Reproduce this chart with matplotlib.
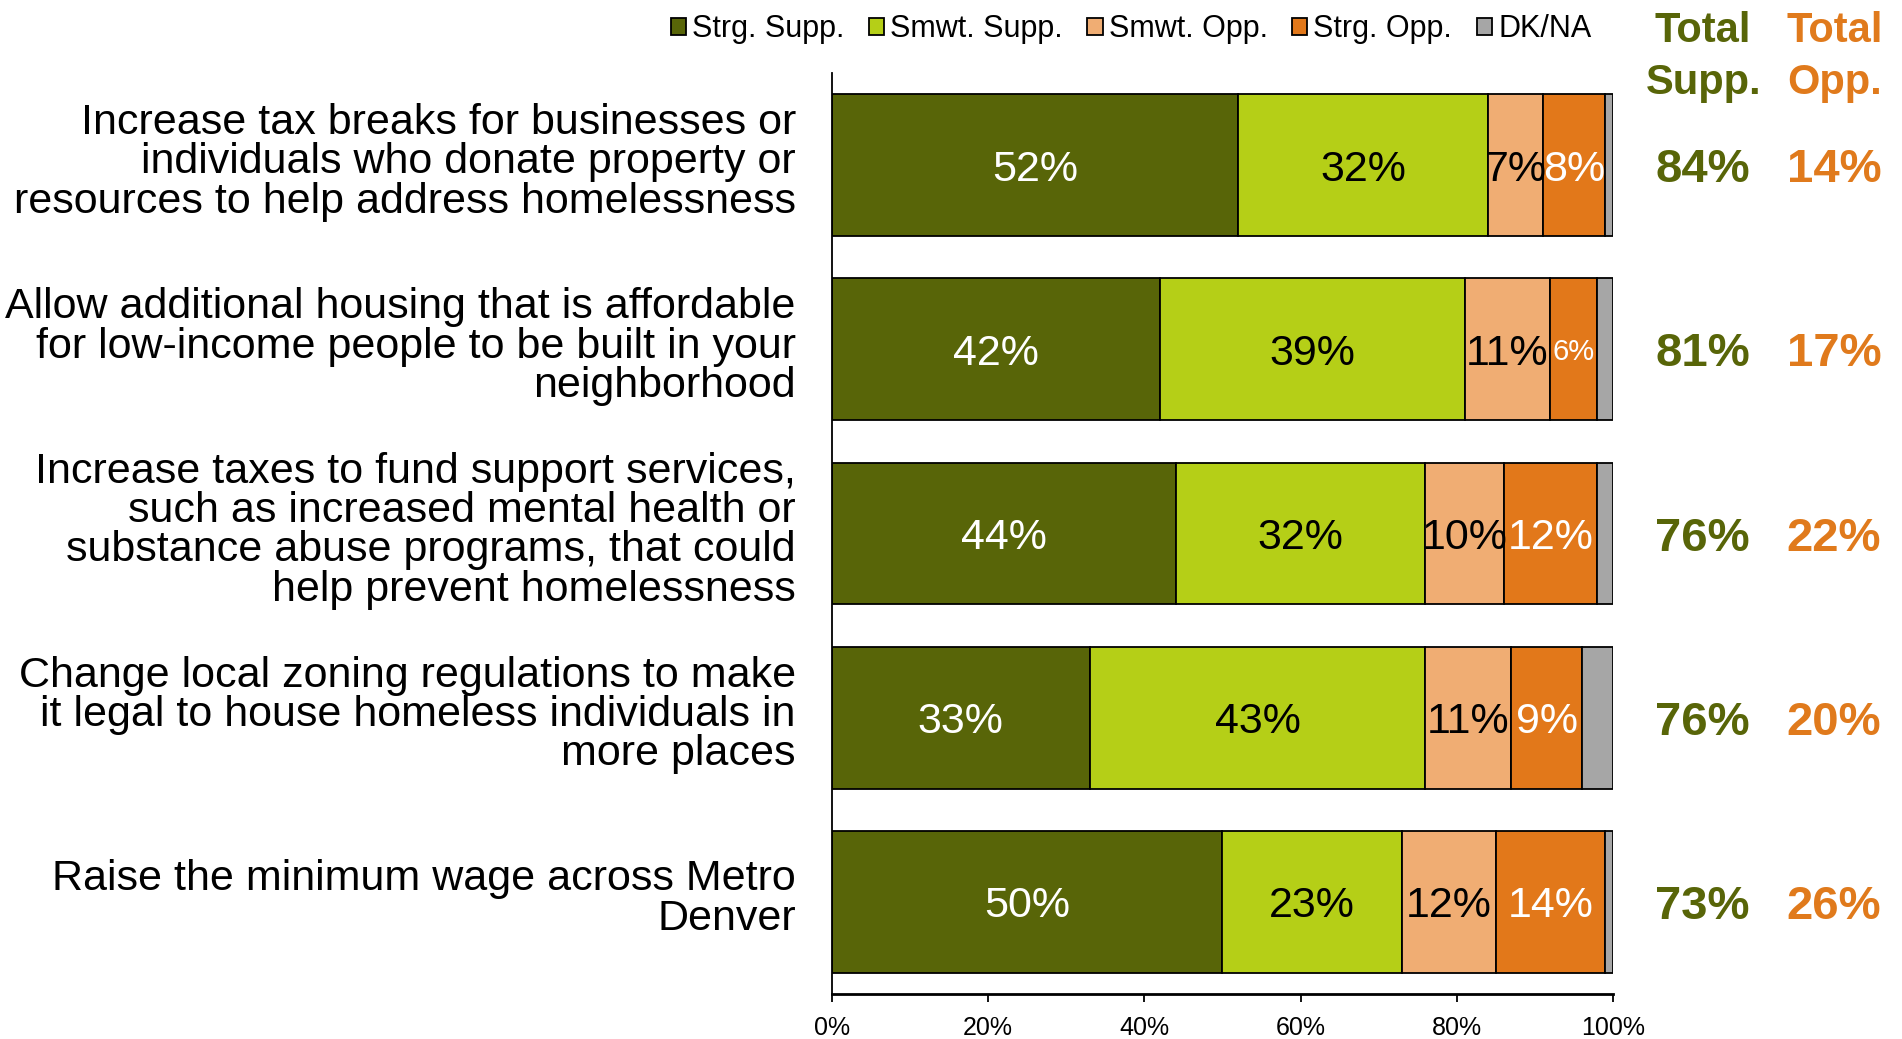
import numpy as np
import matplotlib
matplotlib.use("Agg")
import matplotlib.pyplot as plt
from matplotlib.transforms import ScaledTranslation

plt.rcParams["font.family"] = ["Liberation Sans", "DejaVu Sans"]

questions = [
    "Increase tax breaks for businesses or\nindividuals who donate property or\nresources to help address homelessness",
    "Allow additional housing that is affordable\nfor low-income people to be built in your\nneighborhood",
    "Increase taxes to fund support services,\nsuch as increased mental health or\nsubstance abuse programs, that could\nhelp prevent homelessness",
    "Change local zoning regulations to make\nit legal to house homeless individuals in\nmore places",
    "Raise the minimum wage across Metro\nDenver",
]
series = ["Strg. Supp.", "Smwt. Supp.", "Smwt. Opp.", "Strg. Opp.", "DK/NA"]
strg_supp = [52, 42, 44, 33, 50]
smwt_supp = [32, 39, 32, 43, 23]
smwt_opp = [7, 11, 10, 11, 12]
strg_opp = [8, 6, 12, 9, 14]
dk_na = [1, 2, 2, 4, 1]
total_supp = [84, 81, 76, 76, 73]
total_opp = [14, 17, 22, 20, 26]

colors = ["#586508", "#b5cf17", "#f0ad73", "#e2781a", "#a6a6a6"]
text_colors = ["white", "black", "black", "white", None]
green = "#586508"
orange = "#e07a1c"

fig = plt.figure(figsize=(19.02, 10.39), dpi=100)
ax = fig.add_axes([0.4374, 0.0433, 0.4106, 0.8864])

y = np.arange(len(questions))
data = [strg_supp, smwt_supp, smwt_opp, strg_opp, dk_na]
left = np.zeros(len(questions))
for k, vals in enumerate(data):
    vals = np.array(vals, dtype=float)
    ax.barh(y, vals, left=left, height=0.77, color=colors[k], edgecolor="black",
            linewidth=1.3, label=series[k])
    if text_colors[k] is not None:
        for i, v in enumerate(vals):
            fs = 21 if v < 7 else 31
            ax.text(left[i] + v / 2, y[i], f"{int(v)}%", ha="center", va="center_baseline",
                    color=text_colors[k], fontsize=fs)
    left += vals

ax.set_xlim(0, 100)
ax.set_ylim(4.5, -0.5)
ax.set_yticks(y)
ax.set_yticklabels(questions, fontsize=31, linespacing=0.98)
ax.tick_params(axis="y", length=0, pad=26)
# labels sit a little above the bar centres
shift = ScaledTranslation(0, 5 / 72, fig.dpi_scale_trans)
for lab in ax.get_yticklabels():
    lab.set_transform(lab.get_transform() + shift)
ax.set_xticks(np.arange(0, 101, 20))
ax.set_xticklabels([f"{t}%" for t in range(0, 101, 20)], fontsize=18)
ax.tick_params(axis="x", length=6, width=1.3, direction="out", pad=10)
for s in ["top", "right"]:
    ax.spines[s].set_visible(False)
ax.spines["left"].set_linewidth(1.3)
ax.spines["bottom"].set_linewidth(2)

# totals on the right
tr = ax.get_yaxis_transform()
for i in range(len(questions)):
    ax.text(1.115, y[i], f"{total_supp[i]}%", transform=tr, ha="center", va="center_baseline",
            fontsize=34, fontweight="bold", color=green, clip_on=False)
    ax.text(1.283, y[i], f"{total_opp[i]}%", transform=tr, ha="center", va="center_baseline",
            fontsize=34, fontweight="bold", color=orange, clip_on=False)
fig.text(0.8955, 0.970, "Total", ha="center", va="center", fontsize=30, fontweight="bold", color=green)
fig.text(0.8955, 0.920, "Supp.", ha="center", va="center", fontsize=30, fontweight="bold", color=green)
fig.text(0.9645, 0.970, "Total", ha="center", va="center", fontsize=30, fontweight="bold", color=orange)
fig.text(0.9645, 0.920, "Opp.", ha="center", va="center", fontsize=30, fontweight="bold", color=orange)

fig.legend(loc="center", bbox_to_anchor=(0.5946, 0.972), ncol=5, frameon=False, fontsize=22,
           handlelength=0.5, handleheight=0.5, handletextpad=0.2, columnspacing=0.8)

fig.savefig("out.png", dpi=100)
